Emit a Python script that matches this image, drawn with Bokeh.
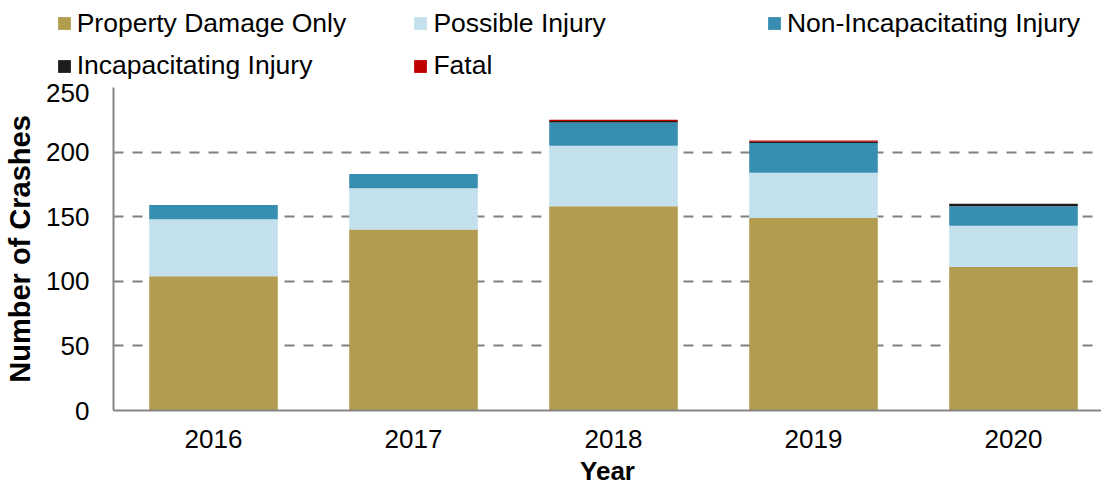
from bokeh.plotting import figure
from bokeh.layouts import column, row
from bokeh.models import Range1d, FixedTicker, Legend, LegendItem, ColumnDataSource
from bokeh.embed import file_html
from bokeh.resources import INLINE

years = ["2016", "2017", "2018", "2019", "2020"]
property_damage = [104, 140, 158, 149, 111]
possible_injury = [44, 32, 47, 35, 32]
non_incap_injury = [11, 11, 18, 23, 15]
incap_injury = [0, 0, 1, 1, 2]
fatal = [0, 0, 1, 1, 0]
y_ticks = [0, 50, 100, 150, 200, 250]

series = ["Property Damage Only", "Possible Injury", "Non-Incapacitating Injury",
          "Incapacitating Injury", "Fatal"]
colors = ["#B19C50", "#C3E1EC", "#388EB1", "#1C1C1C", "#C00000"]
stack_cols = ["s0", "s1", "s2", "s3", "s4"]

source = ColumnDataSource(dict(
    x=list(range(len(years))),
    s0=property_damage, s1=possible_injury, s2=non_incap_injury,
    s3=incap_injury, s4=fatal))

FONT = "Liberation Sans"
TOP_H = 83

# ---- main chart ----
p = figure(width=1101, height=492 - TOP_H, output_backend="svg", toolbar_location=None,
           x_range=Range1d(-0.5, 4.44), y_range=Range1d(0, 250),
           min_border_left=113, min_border_right=0, min_border_top=87 - TOP_H,
           min_border_bottom=82)
p.outline_line_color = None

p.vbar_stack(stack_cols, x="x", width=0.643, source=source,
             color=colors, line_color=None)

p.xaxis.ticker = FixedTicker(ticks=list(range(len(years))))
p.xaxis.major_label_overrides = {i: y for i, y in enumerate(years)}
p.yaxis.ticker = FixedTicker(ticks=y_ticks)
for ax in (p.xaxis[0], p.yaxis[0]):
    ax.axis_line_color = "#868686"
    ax.axis_line_width = 2
    ax.major_tick_line_color = None
    ax.minor_tick_line_color = None
    ax.major_tick_out = 0
    ax.major_tick_in = 0
    ax.major_label_text_font = FONT
    ax.major_label_text_font_size = "26px"
    ax.major_label_text_color = "black"
    ax.axis_label_text_font = FONT
    ax.axis_label_text_font_style = "bold"
    ax.axis_label_text_color = "black"

p.xaxis.axis_label = "Year"
p.xaxis.axis_label_text_font_size = "26px"
p.xaxis.major_label_standoff = 19
p.xaxis.axis_label_standoff = 5
p.yaxis.axis_label = "Number of Crashes"
p.yaxis.axis_label_text_font_size = "29px"
p.yaxis.major_label_standoff = 24
p.yaxis.axis_label_standoff = 7

p.xgrid.grid_line_color = None
p.ygrid.grid_line_color = "#808080"
p.ygrid.grid_line_width = 2
p.ygrid.grid_line_dash = "10 9"

# ---- legend strip on top (its bars lie outside its view; only the legend shows) ----
top = figure(width=1101, height=TOP_H, output_backend="svg", toolbar_location=None,
             x_axis_type=None, y_axis_type=None,
             x_range=Range1d(-100, -99), y_range=Range1d(0, 1),
             min_border_left=0, min_border_right=0, min_border_top=0, min_border_bottom=0)
top.outline_line_color = None
top.grid.visible = False

proxies = top.vbar_stack(stack_cols, x="x", width=0.643, source=source,
                         color=colors, line_color=None)

positions = [(55.7, 44.5), (412.4, 44.5), (765.9, 44.5), (55.7, 1.6), (412.4, 1.6)]
for name, r, loc in zip(series, proxies, positions):
    lg = Legend(items=[LegendItem(label=name, renderers=[r])], location=loc,
                padding=0, margin=0, border_line_color=None, background_fill_alpha=0,
                glyph_width=16, glyph_height=16, label_standoff=5, label_height=30,
                label_text_font=FONT, label_text_font_size="26.5px",
                label_text_color="black", spacing=0)
    top.add_layout(lg, "center")

layout = column(row(top), p, spacing=0)
open("out.html", "w").write(file_html(layout, INLINE))
